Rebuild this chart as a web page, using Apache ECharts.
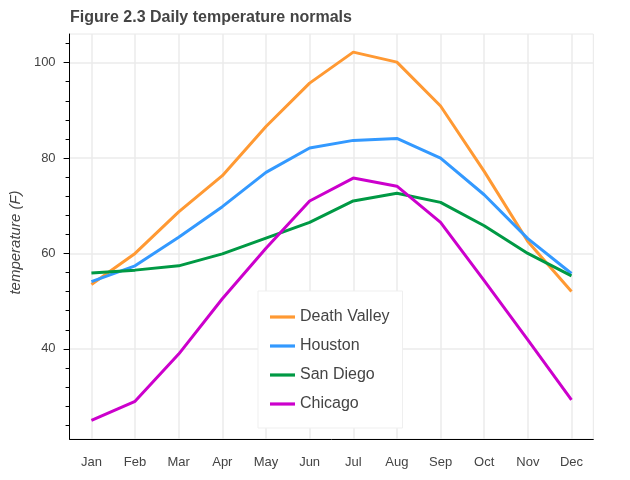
<!DOCTYPE html>
<html>
<head>
<meta charset="utf-8">
<script src="https://cdn.jsdelivr.net/npm/echarts@6/dist/echarts.min.js"></script>
<style>
html,body{margin:0;padding:0;background:#fff;}
#chart{width:630px;height:480px;}
</style>
</head>
<body>
<div id="chart"></div>
<script>
var months = ['Jan','Feb','Mar','Apr','May','Jun','Jul','Aug','Sep','Oct','Nov','Dec'];
var deathValley = [53.5, 60.0, 68.7, 76.3, 86.6, 95.7, 102.2, 100.1, 90.9, 77.2, 62.5, 52.0];
var houston     = [54.1, 57.4, 63.4, 69.8, 77.0, 82.1, 83.7, 84.1, 80.0, 72.3, 63.1, 55.8];
var sanDiego    = [55.9, 56.5, 57.4, 59.9, 63.2, 66.5, 71.0, 72.6, 70.7, 65.8, 60.0, 55.3];
var chicago     = [25.0, 29.0, 38.9, 50.5, 61.1, 71.0, 75.8, 74.1, 66.5, 54.3, 41.9, 29.3];
var yTicks = [40, 60, 80, 100];
var seriesNames = ['Death Valley', 'Houston', 'San Diego', 'Chicago'];
var seriesColors = ['#ff9933', '#3399ff', '#009944', '#cc00cc'];
var seriesData = [deathValley, houston, sanDiego, chicago];

var chart = echarts.init(document.getElementById('chart'), null, {renderer: 'canvas'});
var txt = '#444444';
var font = 'Liberation Sans, Arial, sans-serif';
chart.setOption({
  animation: false,
  backgroundColor: '#ffffff',
  title: {
    text: 'Figure 2.3 Daily temperature normals',
    left: 70, top: 10, padding: 0,
    textStyle: {fontFamily: font, fontSize: 16, fontWeight: 'bold', color: txt}
  },
  grid: {
    left: 69.3, right: 36.7, top: 34, bottom: 41,
    show: true, borderColor: '#e8e8e8', borderWidth: 1, backgroundColor: 'transparent'
  },
  legend: {
    orient: 'vertical',
    left: 258, top: 291,
    padding: [18, 13, 16, 12],
    itemWidth: 25, itemHeight: 16, itemGap: 13,
    icon: 'path://M0,0L25,0L25,3.2L0,3.2Z',
    backgroundColor: '#ffffff',
    borderColor: '#efefef', borderWidth: 1,
    textStyle: {fontFamily: font, fontSize: 16, color: txt},
    data: seriesNames
  },
  xAxis: {
    type: 'category',
    data: months,
    boundaryGap: true,
    axisLine: {lineStyle: {color: '#000000', width: 1}},
    axisTick: {alignWithLabel: true, length: 6, lineStyle: {color: '#000000'}},
    axisLabel: {margin: 17, fontFamily: font, fontSize: 13, color: txt},
    splitLine: {show: true, alignWithLabel: true, lineStyle: {color: '#ebebeb', width: 1.5}}
  },
  yAxis: {
    type: 'value',
    min: 21.1, max: 106,
    splitNumber: 4,
    name: 'temperature (F)',
    nameLocation: 'middle',
    nameGap: 46,
    nameTextStyle: {fontFamily: font, fontSize: 15, fontStyle: 'italic', color: txt, padding: [0, 12, 0, 0]},
    axisLine: {show: true, lineStyle: {color: '#000000', width: 1}},
    axisTick: {show: true, length: 6, customValues: yTicks, lineStyle: {color: '#000000'}},
    minorTick: {show: true, splitNumber: 5, length: 4, lineStyle: {color: '#000000'}},
    axisLabel: {margin: 14, customValues: yTicks, fontFamily: font, fontSize: 13, color: txt},
    splitLine: {show: true, lineStyle: {color: '#ebebeb', width: 1.5}}
  },
  series: seriesData.map(function (d, i) {
    return {
      name: seriesNames[i],
      type: 'line',
      data: d,
      symbol: 'none',
      color: seriesColors[i],
      lineStyle: {width: 3, color: seriesColors[i]}
    };
  })
});
</script>
</body>
</html>
